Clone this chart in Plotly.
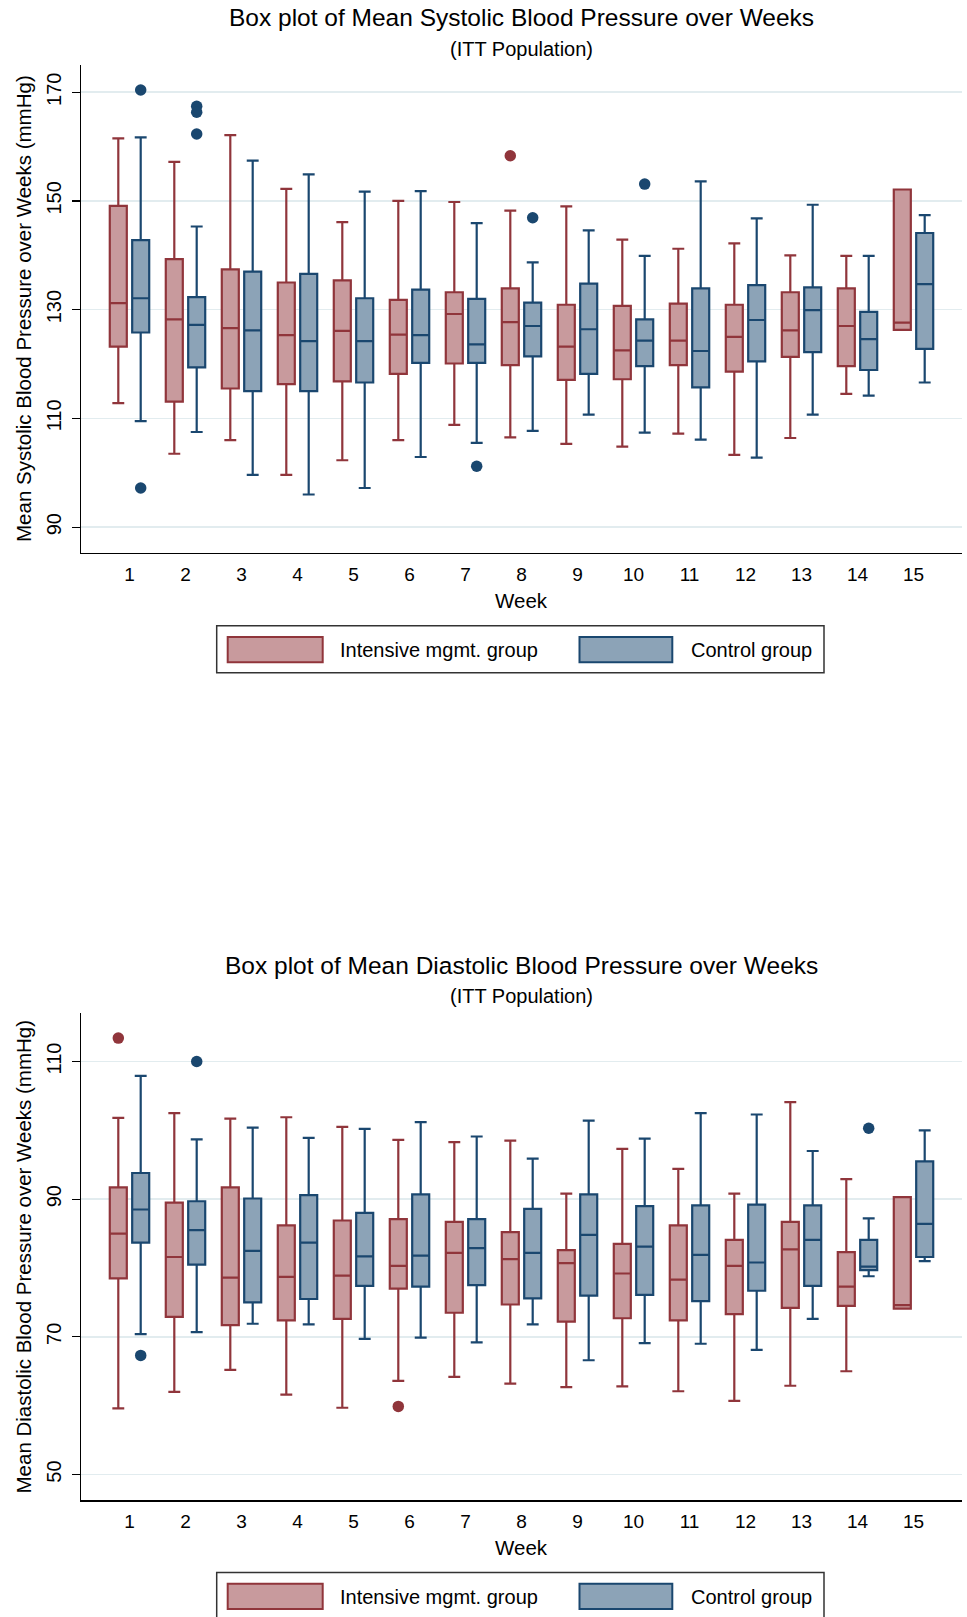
import plotly.graph_objects as go

W, H = 967, 1617

weeks = list(range(1, 16))
week_labels = [str(w) for w in weeks]

# ---------------- Systolic ----------------
sbp_int_lower = [112.8, 103.5, 106.0, 99.6, 102.3, 106.0, 108.8, 106.5, 105.3, 104.8, 107.2, 103.3, 106.4, 114.5, 126.3]
sbp_int_q1 = [123.2, 113.1, 115.5, 116.3, 116.8, 118.2, 120.1, 119.8, 117.1, 117.2, 119.8, 118.6, 121.3, 119.6, 126.3]
sbp_int_median = [131.2, 128.2, 126.6, 125.3, 126.1, 125.4, 129.2, 127.7, 123.2, 122.5, 124.3, 125.0, 126.2, 127.0, 127.6]
sbp_int_q3 = [149.1, 139.3, 137.4, 135.0, 135.4, 131.8, 133.2, 133.9, 130.9, 130.7, 131.1, 130.9, 133.2, 133.9, 152.1]
sbp_int_upper = [161.5, 157.2, 162.1, 152.2, 146.1, 150.0, 149.8, 148.2, 149.0, 142.9, 141.2, 142.2, 140.0, 139.9, 152.1]
sbp_int_outliers = [[], [], [], [], [], [], [], [158.3], [], [], [], [], [], [], []]

sbp_ctl_lower = [109.5, 107.5, 99.6, 96.0, 97.2, 102.9, 105.5, 107.7, 110.7, 107.4, 106.1, 102.8, 110.7, 114.2, 116.6]
sbp_ctl_q1 = [125.8, 119.4, 115.0, 115.0, 116.6, 120.2, 120.2, 121.4, 118.2, 119.6, 115.7, 120.5, 122.2, 118.9, 122.8]
sbp_ctl_median = [132.1, 127.2, 126.2, 124.2, 124.2, 125.3, 123.6, 127.0, 126.4, 124.3, 122.4, 128.1, 129.9, 124.6, 134.7]
sbp_ctl_q3 = [142.8, 132.3, 137.0, 136.6, 132.1, 133.7, 132.0, 131.3, 134.8, 128.2, 133.9, 134.5, 134.1, 129.6, 144.1]
sbp_ctl_upper = [161.7, 145.3, 157.4, 154.9, 151.7, 151.8, 145.9, 138.7, 144.6, 139.9, 153.6, 146.8, 149.3, 139.9, 147.4]
sbp_ctl_outliers = [[170.4, 97.2], [167.4, 166.3, 162.3], [], [], [], [], [101.2], [146.9], [], [153.1], [], [], [], [], []]

# ---------------- Diastolic ----------------
dbp_int_lower = [59.6, 62.0, 65.2, 61.6, 59.7, 63.6, 64.2, 63.2, 62.7, 62.8, 62.1, 60.7, 62.9, 65.0, 74.1]
dbp_int_q1 = [78.5, 72.9, 71.7, 72.4, 72.6, 77.0, 73.5, 74.7, 72.2, 72.7, 72.4, 73.3, 74.2, 74.5, 74.1]
dbp_int_median = [85.0, 81.6, 78.6, 78.7, 78.9, 80.3, 82.2, 81.3, 80.7, 79.2, 78.3, 80.3, 82.7, 77.3, 74.6]
dbp_int_q3 = [91.7, 89.5, 91.7, 86.2, 86.9, 87.1, 86.7, 85.2, 82.6, 83.5, 86.2, 84.1, 86.7, 82.3, 90.3]
dbp_int_upper = [101.8, 102.5, 101.7, 101.9, 100.5, 98.6, 98.3, 98.5, 90.8, 97.3, 94.4, 90.8, 104.1, 92.9, 90.3]
dbp_int_outliers = [[113.4], [], [], [], [], [59.9], [], [], [], [], [], [], [], [], []]

dbp_ctl_lower = [70.4, 70.7, 71.9, 71.8, 69.7, 69.9, 69.2, 71.8, 66.6, 69.1, 69.0, 68.1, 72.6, 78.8, 81.0]
dbp_ctl_q1 = [83.7, 80.5, 75.0, 75.5, 77.4, 77.3, 77.5, 75.6, 76.0, 76.1, 75.2, 76.7, 77.4, 79.7, 81.6]
dbp_ctl_median = [88.5, 85.5, 82.5, 83.7, 81.7, 81.8, 82.9, 82.2, 84.8, 83.1, 81.9, 80.8, 84.1, 80.2, 86.4]
dbp_ctl_q3 = [93.8, 89.7, 90.1, 90.6, 88.0, 90.7, 87.1, 88.6, 90.7, 89.0, 89.1, 89.2, 89.1, 84.1, 95.5]
dbp_ctl_upper = [107.9, 98.7, 100.4, 98.9, 100.2, 101.2, 99.1, 95.9, 101.4, 98.8, 102.5, 102.3, 97.0, 87.2, 100.0]
dbp_ctl_outliers = [[67.3], [110.0], [], [], [], [], [], [], [], [], [], [], [], [100.3], []]

group_names = ["Intensive mgmt. group", "Control group"]
line_colors = ["#90353B", "#1A476F"]
fill_colors = ["#C89A9D", "#8CA3B7"]

FONT = "Liberation Sans, Arial, sans-serif"


def px_x(px):
    return px / W


def px_y(py):
    return 1 - py / H


fig = go.Figure()

datasets = [
    ("x", "y", [
        (sbp_int_lower, sbp_int_q1, sbp_int_median, sbp_int_q3, sbp_int_upper, sbp_int_outliers),
        (sbp_ctl_lower, sbp_ctl_q1, sbp_ctl_median, sbp_ctl_q3, sbp_ctl_upper, sbp_ctl_outliers),
    ]),
    ("x2", "y2", [
        (dbp_int_lower, dbp_int_q1, dbp_int_median, dbp_int_q3, dbp_int_upper, dbp_int_outliers),
        (dbp_ctl_lower, dbp_ctl_q1, dbp_ctl_median, dbp_ctl_q3, dbp_ctl_upper, dbp_ctl_outliers),
    ]),
]

for xa, ya, groups in datasets:
    for gi, (lo, q1, med, q3, up, outl) in enumerate(groups):
        fig.add_trace(go.Box(
            x=weeks,
            lowerfence=lo, q1=q1, median=med, q3=q3, upperfence=up,
            name=group_names[gi], offsetgroup="g%d" % gi,
            xaxis=xa, yaxis=ya,
            orientation="v",
            fillcolor=fill_colors[gi],
            line=dict(color=line_colors[gi], width=2.2),
            whiskerwidth=0.7,
            boxpoints=False,
            showlegend=False, hoverinfo="skip",
        ))
    for gi, (lo, q1, med, q3, up, outl) in enumerate(groups):
        ox = [w for w, vals in zip(weeks, outl) for _ in vals]
        oy = [v for vals in outl for v in vals]
        fig.add_trace(go.Scatter(
            x=ox, y=oy, mode="markers",
            offsetgroup="g%d" % gi, orientation="v",
            xaxis=xa, yaxis=ya,
            marker=dict(color=line_colors[gi], size=11.5, line=dict(width=0)),
            showlegend=False, hoverinfo="skip",
        ))

# plot area pixel geometry
PL, PR = 81, 962
T1, B1 = 65, 552.7
T2, B2 = 1013.3, 1500

axis_common = dict(
    tickvals=weeks, ticktext=week_labels, range=[0.134, 15.866],
    showgrid=False, zeroline=False, showline=True, linecolor="#000000", linewidth=1.5,
    ticks="", tickfont=dict(family=FONT, size=19, color="#000"),
    ticklabelstandoff=4,
)
yaxis_common = dict(
    showgrid=True, gridcolor="#E2ECEF", gridwidth=1.5, zeroline=False,
    showline=True, linecolor="#000000", linewidth=1.5,
    ticks="outside", ticklen=8, tickcolor="#000", tickwidth=1.2,
    tickangle=-90, tickfont=dict(family=FONT, size=20, color="#000"),
    ticklabelstandoff=3,
)

fig.update_layout(
    width=W, height=H,
    margin=dict(l=0, r=0, t=0, b=0),
    paper_bgcolor="white", plot_bgcolor="white",
    boxmode="group", boxgap=0.2, boxgroupgap=0.24,
    scattermode="group", scattergap=0.2,
    font=dict(family=FONT, color="#000"),
    hovermode=False,
    xaxis=dict(domain=[px_x(PL), px_x(PR)], anchor="y", **axis_common),
    yaxis=dict(domain=[px_y(B1), px_y(T1)], anchor="x", range=[85.3, 175.0],
               tickvals=[90, 110, 130, 150, 170], **yaxis_common),
    xaxis2=dict(domain=[px_x(PL), px_x(PR)], anchor="y2", **axis_common),
    yaxis2=dict(domain=[px_y(B2), px_y(T2)], anchor="x2", range=[46.3, 117.0],
                tickvals=[50, 70, 90, 110], **yaxis_common),
)

annotations = []
shapes = []


def add_text(text, x, y, size, angle=0, xanchor="center"):
    annotations.append(dict(
        text=text, x=px_x(x), y=px_y(y), xref="paper", yref="paper",
        showarrow=False, xanchor=xanchor, yanchor="middle", textangle=angle,
        font=dict(family=FONT, size=size, color="#000"),
    ))


cx = (PL + PR) / 2
titles = [
    ("Box plot of Mean Systolic Blood Pressure over Weeks", 18, 48.5,
     "Mean Systolic Blood Pressure over Weeks (mmHg)", 309, 600, 625.7),
    ("Box plot of Mean Diastolic Blood Pressure over Weeks", 965, 996,
     "Mean Diastolic Blood Pressure over Weeks (mmHg)", 1256.5, 1547, 1572.5),
]
for title, ty, sy, ytitle, ymid, wky, legtop in titles:
    add_text(title, cx, ty, 24.5)
    add_text("(ITT Population)", cx, sy, 20)
    add_text(ytitle, 23, ymid, 20.5, angle=-90)
    add_text("Week", cx, wky, 20.5)
    # legend frame
    shapes.append(dict(type="rect", xref="paper", yref="paper",
                       x0=px_x(216.7), x1=px_x(824), y0=px_y(legtop + 47), y1=px_y(legtop),
                       line=dict(color="#333333", width=1.5), fillcolor="rgba(0,0,0,0)"))
    sw = [(227.7, 322.7, 337.5), (579.5, 672.3, 688.5)]
    for gi, (x0, x1, tx) in enumerate(sw):
        shapes.append(dict(type="rect", xref="paper", yref="paper",
                           x0=px_x(x0), x1=px_x(x1), y0=px_y(legtop + 36.5), y1=px_y(legtop + 11.3),
                           line=dict(color=line_colors[gi], width=2), fillcolor=fill_colors[gi]))
        add_text(group_names[gi], tx, legtop + 24.5, 20, xanchor="left")

fig.update_layout(annotations=annotations, shapes=shapes)

fig.write_html(
    "out.html",
    config={"displayModeBar": False, "staticPlot": True},
    post_script="document.body.style.margin='0';document.body.style.padding='0';document.body.style.overflow='hidden';",
)
